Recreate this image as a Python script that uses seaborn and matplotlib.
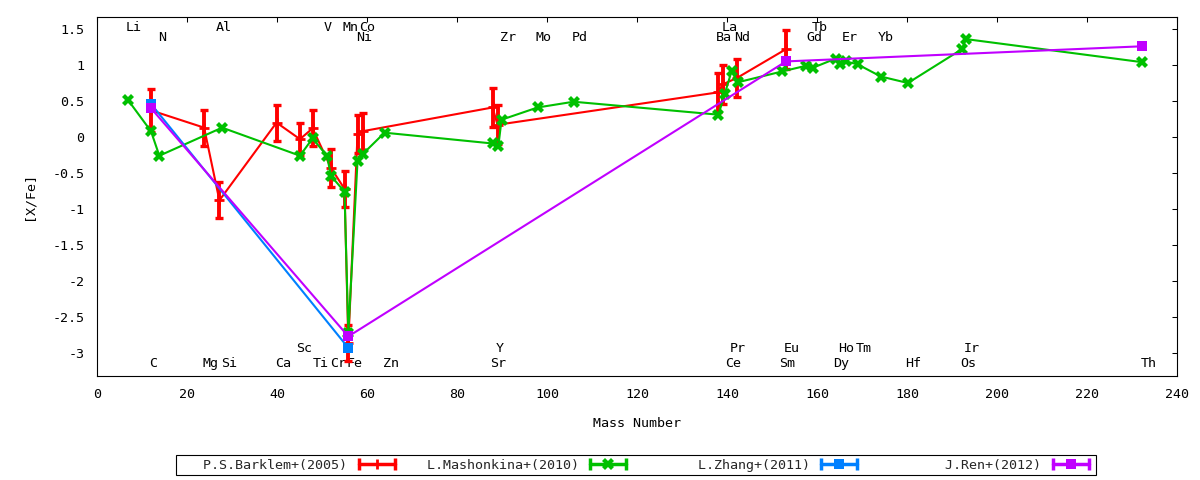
import matplotlib
matplotlib.use('Agg')
import matplotlib.pyplot as plt
from matplotlib.lines import Line2D
from matplotlib.legend_handler import HandlerLine2D
from matplotlib.ticker import FuncFormatter, MultipleLocator
import seaborn as sns

### [X/Fe] vs mass number ###

# P.S.Barklem+(2005) #
barklem_mass = [12.0, 23.8, 27.2, 39.9, 45.1, 47.9, 52.0, 55.0, 55.85, 57.9, 59.0,
                87.9, 89.0, 138.0, 139.0, 142.2, 153.1]
barklem_xfe = [0.37, 0.13, -0.88, 0.20, -0.03, 0.12, -0.43, -0.72, -2.86, 0.04, 0.08,
               0.41, 0.17, 0.62, 0.73, 0.82, 1.22]
barklem_err = [0.30, 0.25, 0.25, 0.25, 0.22, 0.25, 0.27, 0.25, 0.25, 0.26, 0.26,
               0.27, 0.27, 0.27, 0.27, 0.27, 0.27]

# L.Mashonkina+(2010) #
mash_mass = [6.94, 12.0, 13.85, 27.8, 45.1, 47.9, 51.1, 52.0, 55.0, 55.85, 57.9, 59.0,
             63.9, 87.9, 89.2, 89.9, 97.9, 105.9, 138.1, 139.5, 141.0, 142.4, 152.2,
             157.6, 159.0, 164.2, 165.2, 166.4, 169.0, 174.2, 180.2, 192.2, 193.1, 232.2]
mash_xfe = [0.51, 0.08, -0.26, 0.13, -0.26, -0.02, -0.26, -0.54, -0.76, -2.72, -0.33, -0.24,
            0.06, -0.09, -0.12, 0.24, 0.41, 0.49, 0.31, 0.60, 0.91, 0.76, 0.91,
            0.99, 0.96, 1.09, 1.02, 1.05, 1.01, 0.84, 0.75, 1.22, 1.36, 1.04]

# L.Zhang+(2011) #
zhang_mass = [12.0, 55.85]
zhang_xfe = [0.46, -2.93]

# J.Ren+(2012) #
ren_mass = [12.0, 55.85, 153.1, 232.2]
ren_xfe = [0.40, -2.77, 1.05, 1.26]

# element labels, two rows on top and two at the bottom #
top1_names = ['Li', 'Al', 'V', 'Mn', 'Co', 'La', 'Tb']
top1_x = [8.1, 28.2, 51.3, 56.4, 60.0, 140.5, 160.5]
top2_names = ['N', 'Ni', 'Zr', 'Mo', 'Pd', 'Ba', 'Nd', 'Gd', 'Er', 'Yb']
top2_x = [14.4, 59.3, 91.3, 99.3, 107.2, 139.3, 143.3, 159.4, 167.3, 175.3]
bot1_names = ['Sc', 'Y', 'Pr', 'Eu', 'Ho', 'Tm', 'Ir']
bot1_x = [46.1, 89.6, 142.4, 154.4, 166.4, 170.5, 194.4]
bot2_names = ['C', 'Mg', 'Si', 'Ca', 'Ti', 'Cr', 'Fe', 'Zn', 'Sr', 'Ce', 'Sm', 'Dy', 'Hf', 'Os', 'Th']
bot2_x = [12.4, 25.3, 29.3, 41.3, 49.7, 53.5, 57.2, 65.3, 89.1, 141.4, 153.3, 165.3, 181.4, 193.6, 233.8]
row_y = [1.52, 1.38, -2.94, -3.14]

legend_labels = ['P.S.Barklem+(2005)', 'L.Mashonkina+(2010)', 'L.Zhang+(2011)', 'J.Ren+(2012)']

## Colors (old gnuplot ones) ##
red = '#ff0000'
green = '#00c000'
blue = '#0080ff'
purple = '#c000ff'

sns.set_theme(style='white')
plt.rcParams['font.family'] = ['DejaVu Sans Mono', 'DejaVu Sans']
plt.rcParams['axes.unicode_minus'] = False
fs = 9.6

fig = plt.figure(figsize=(12, 4.8), dpi=100)
ax = fig.add_axes([97/1200, 1-376/480, 1080/1200, 359/480])

# labels go under the data #
for names, xs, yv in zip([top1_names, top2_names, bot1_names, bot2_names],
                         [top1_x, top2_x, bot1_x, bot2_x], row_y):
    for n, xv in zip(names, xs):
        ax.text(xv, yv, n, ha='center', va='center', fontsize=fs, color='black', zorder=1)

ax.errorbar(barklem_mass, barklem_xfe, yerr=barklem_err, fmt='none', ecolor=red,
            elinewidth=2.8, capsize=3, capthick=2.4, zorder=3)
sns.lineplot(x=barklem_mass, y=barklem_xfe, sort=False, estimator=None, color=red,
             lw=1.5, marker='+', markersize=7, markeredgewidth=2, markeredgecolor=red,
             ax=ax, legend=False, zorder=3)
sns.lineplot(x=mash_mass, y=mash_xfe, sort=False, estimator=None, color=green,
             lw=1.5, marker='X', markersize=8, markeredgewidth=0, markeredgecolor=green,
             ax=ax, legend=False, zorder=4)
sns.lineplot(x=zhang_mass, y=zhang_xfe, sort=False, estimator=None, color=blue,
             lw=1.5, marker='s', markersize=7.5, markeredgewidth=0, ax=ax, legend=False, zorder=5)
sns.lineplot(x=ren_mass, y=ren_xfe, sort=False, estimator=None, color=purple,
             lw=1.5, marker='s', markersize=7.5, markeredgewidth=0, ax=ax, legend=False, zorder=6)

ax.set_xlim(0, 240)
ax.set_ylim(-3.32, 1.667)
ax.xaxis.set_major_locator(MultipleLocator(20))
ax.yaxis.set_major_locator(MultipleLocator(0.5))
ax.yaxis.set_major_formatter(FuncFormatter(lambda v, p: '%g' % v))
ax.tick_params(direction='in', top=True, right=True, length=3.3, width=0.75,
               colors='black', labelsize=fs, pad=9)
for s in ax.spines.values():
    s.set_color('black')
    s.set_linewidth(0.8)

ax.set_xlabel('Mass Number', fontsize=fs, color='black')
ax.xaxis.set_label_coords(0.5, -0.113)
ax.set_ylabel('[X/Fe]', fontsize=fs, color='black')
ax.yaxis.set_label_coords(-0.057, 0.5)

## Legend, gnuplot style: text then sample ##
handles = []
hmap = {}
for c, m, ms in zip([red, green, blue, purple], ['+', 'X', 's', 's'], [7, 8, 7, 7]):
    caps = Line2D([], [], color=c, lw=2.5, marker='|', markersize=8, markeredgewidth=2.5)
    mk = Line2D([], [], color=c, ls='none', marker=m, markersize=ms, markeredgecolor=c,
                markeredgewidth=2 if m == '+' else 0)
    hmap[caps] = HandlerLine2D(numpoints=2)
    hmap[mk] = HandlerLine2D(numpoints=1)
    handles.append((caps, mk))
labels = [t.rjust(21) for t in legend_labels]
leg = fig.legend(handles, labels, handler_map=hmap, loc='center',
                 bbox_to_anchor=(0.53, 0.031), ncol=4, markerfirst=False,
                 fontsize=fs, handlelength=3.3, handletextpad=0.56, columnspacing=0.9,
                 borderpad=0.25, fancybox=False, framealpha=1, edgecolor='black')
leg.get_frame().set_linewidth(0.8)

fig.savefig('out.png', dpi=100)
